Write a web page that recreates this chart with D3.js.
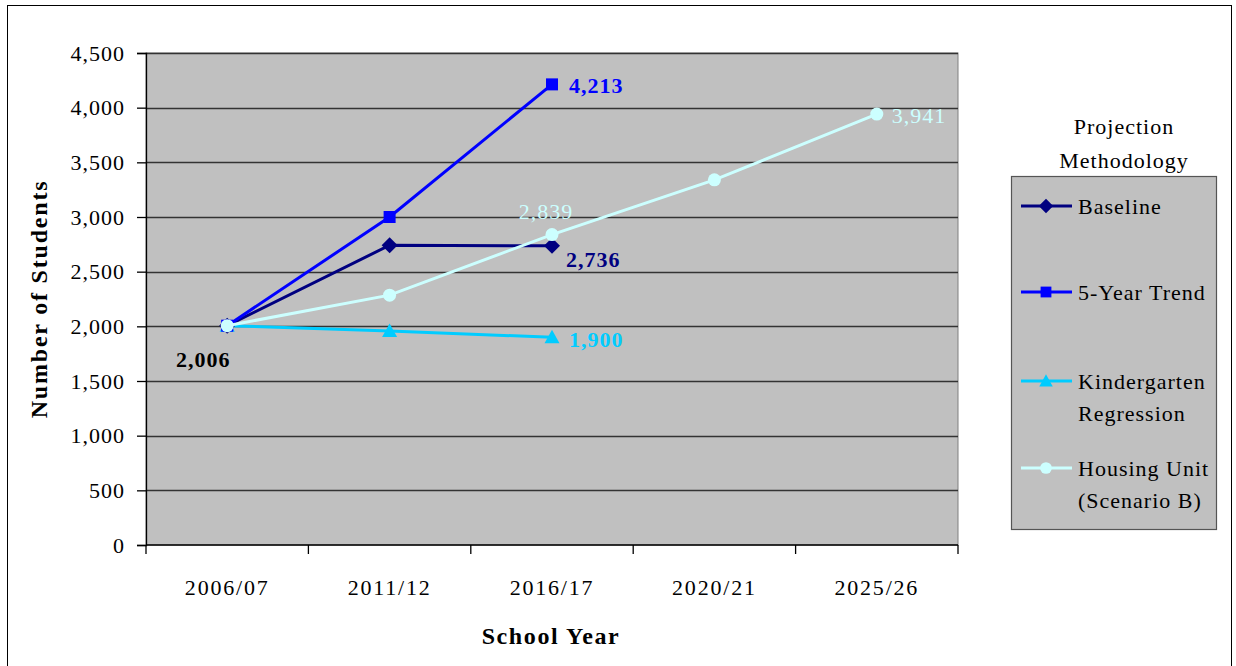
<!DOCTYPE html>
<html><head><meta charset="utf-8">
<script src="https://cdn.jsdelivr.net/npm/d3@7/dist/d3.min.js"></script>
<style>body{margin:0;background:#fff}svg{display:block}svg text{font-family:"Liberation Serif","DejaVu Serif",serif !important}</style>
</head><body><svg id="c" width="1236" height="666" font-family="Liberation Serif"></svg>
<script>
const categories = ["2006/07","2011/12","2016/17","2020/21","2025/26"];
const yTicks = [0,500,1000,1500,2000,2500,3000,3500,4000,4500];
const baseline = [2006, 2742, 2736];
const fiveYear = [2006, 3000, 4213];
const kinder = [2006, 1958, 1900];
const housing = [2006, 2285, 2839, 3340, 3941];
const seriesNames = ["Baseline","5-Year Trend","Kindergarten\nRegression","Housing Unit\n(Scenario B)"];
const seriesColors = ["#000080","#0000FF","#00CCFF","#CCFFFF"];
const seriesShapes = ["diamond","square","triangle","circle"];
const labels = [
  {s:0, i:0, text:"2,006", dx:-24, dy:41, bold:true, color:"#000000", anchor:"middle"},
  {s:1, i:2, text:"4,213", dx:17, dy:9, bold:true},
  {s:0, i:2, text:"2,736", dx:14, dy:21, bold:true},
  {s:2, i:2, text:"1,900", dx:17, dy:10, bold:true},
  {s:3, i:2, text:"2,839", dx:-6, dy:-16, bold:false, anchor:"middle"},
  {s:3, i:4, text:"3,941", dx:15, dy:9, bold:false}
];
const allSeries = [baseline, fiveYear, kinder, housing];
const FF = "Liberation Serif";

const svg = d3.select("#c");
const L=146, R=958, T=53, B=545;
svg.append("rect").attr("x",7.5).attr("y",5.5).attr("width",1224).attr("height",670).attr("fill","#fff").attr("stroke","#000").attr("stroke-width",1);

const x = d3.scaleBand().domain(categories).range([L,R]);
const y = d3.scaleLinear().domain([0,4500]).range([B,T]);
const cx = c => x(c)+x.bandwidth()/2;

svg.append("rect").attr("x",L).attr("y",T).attr("width",R-L).attr("height",B-T).attr("fill","#C0C0C0").attr("stroke","#808080");
// grid
svg.append("g").selectAll("line").data(yTicks.filter(d=>d>0)).join("line")
  .attr("x1",L).attr("x2",R).attr("y1",d=>Math.round(y(d))+0.5).attr("y2",d=>Math.round(y(d))+0.5)
  .attr("stroke","#333").attr("stroke-width",1.3);

const yAxis = d3.axisLeft(y).tickValues(yTicks).tickFormat(d3.format(",")).tickSize(9).tickPadding(12);
const gy = svg.append("g").attr("transform",`translate(${L},0)`).call(yAxis).attr("font-family",FF).attr("font-size",22);
gy.select(".domain").attr("stroke","#000").attr("stroke-width",1.3);
gy.selectAll(".tick line").attr("stroke","#000").attr("stroke-width",1.3);
gy.selectAll("text").attr("font-size",22).attr("font-family",FF).attr("letter-spacing",1).attr("fill","#000");

const gx = svg.append("g").attr("transform",`translate(0,${B})`);
gx.append("line").attr("x1",L).attr("x2",R).attr("stroke","#000").attr("stroke-width",1.3);
const tickPos = categories.map(c=>x(c)).concat([R]);
gx.selectAll("line.t").data(tickPos).join("line").attr("class","t")
  .attr("x1",d=>d).attr("x2",d=>d).attr("y1",0).attr("y2",9).attr("stroke","#000").attr("stroke-width",1.3);
gx.selectAll("text").data(categories).join("text").attr("x",d=>cx(d)).attr("y",50)
  .attr("text-anchor","middle").attr("font-size",22).attr("font-family",FF).attr("letter-spacing",1.8).attr("fill","#000").text(d=>d);

svg.append("text").attr("x",551).attr("y",644).attr("text-anchor","middle").attr("font-family",FF).attr("font-size",24).attr("letter-spacing",1.6).attr("font-weight","bold").text("School Year");
svg.append("text").attr("transform","translate(47,299) rotate(-90)").attr("text-anchor","middle").attr("font-family",FF).attr("font-size",24).attr("letter-spacing",1.8).attr("font-weight","bold").text("Number of Students");

function marker(g, shape, color, px, py, scale=1){
  if(shape==="diamond"){
    const s=8*scale; g.append("path").attr("d",`M${px},${py-s}L${px+s},${py}L${px},${py+s}L${px-s},${py}Z`).attr("fill",color);
  } else if(shape==="square"){
    const s=6*scale; g.append("rect").attr("x",px-s).attr("y",py-s).attr("width",2*s).attr("height",2*s).attr("fill",color);
  } else if(shape==="triangle"){
    const s=7.5*scale; g.append("path").attr("d",`M${px},${py-s}L${px+s},${py+s*0.8}L${px-s},${py+s*0.8}Z`).attr("fill",color);
  } else {
    g.append("circle").attr("cx",px).attr("cy",py).attr("r",6.5*scale).attr("fill",color);
  }
}

const line = d3.line().x((d,i)=>cx(categories[i])).y(d=>y(d));
[2,0,1,3].forEach(s=>{
  const g = svg.append("g");
  g.append("path").attr("d",line(allSeries[s])).attr("fill","none").attr("stroke",seriesColors[s]).attr("stroke-width",3);
  allSeries[s].forEach((v,i)=>marker(g, seriesShapes[s], seriesColors[s], cx(categories[i]), y(v)));
});

labels.forEach(l=>{
  const px = cx(categories[l.i]) + l.dx, py = y(allSeries[l.s][l.i]) + l.dy;
  svg.append("text").attr("x",px).attr("y",py).attr("text-anchor",l.anchor||"start")
    .attr("font-family",FF).attr("font-size",22).attr("letter-spacing",1).attr("font-weight",l.bold?"bold":"normal")
    .attr("fill",l.color||seriesColors[l.s]).text(l.text);
});

// legend
svg.append("text").attr("x",1124).attr("y",134).attr("text-anchor","middle").attr("font-family",FF).attr("font-size",22).attr("letter-spacing",1).text("Projection");
svg.append("text").attr("x",1124).attr("y",168).attr("text-anchor","middle").attr("font-family",FF).attr("font-size",22).attr("letter-spacing",1).text("Methodology");
svg.append("rect").attr("x",1011.5).attr("y",176.5).attr("width",205).attr("height",353).attr("fill","#C0C0C0").attr("stroke","#555").attr("stroke-width",1.2);
const legY = [206, 292, 381, 468];
seriesNames.forEach((n,s)=>{
  const g = svg.append("g");
  const ly = legY[s];
  g.append("line").attr("x1",1021).attr("x2",1072).attr("y1",ly).attr("y2",ly).attr("stroke",seriesColors[s]).attr("stroke-width",3);
  marker(g, seriesShapes[s], seriesColors[s], 1046, ly, 0.9);
  n.split("\n").forEach((t,k)=>{
    g.append("text").attr("x",1078).attr("y",ly+8+k*32).attr("font-family",FF).attr("font-size",22).attr("letter-spacing",1).attr("fill","#000").text(t);
  });
});
</script></body></html>
